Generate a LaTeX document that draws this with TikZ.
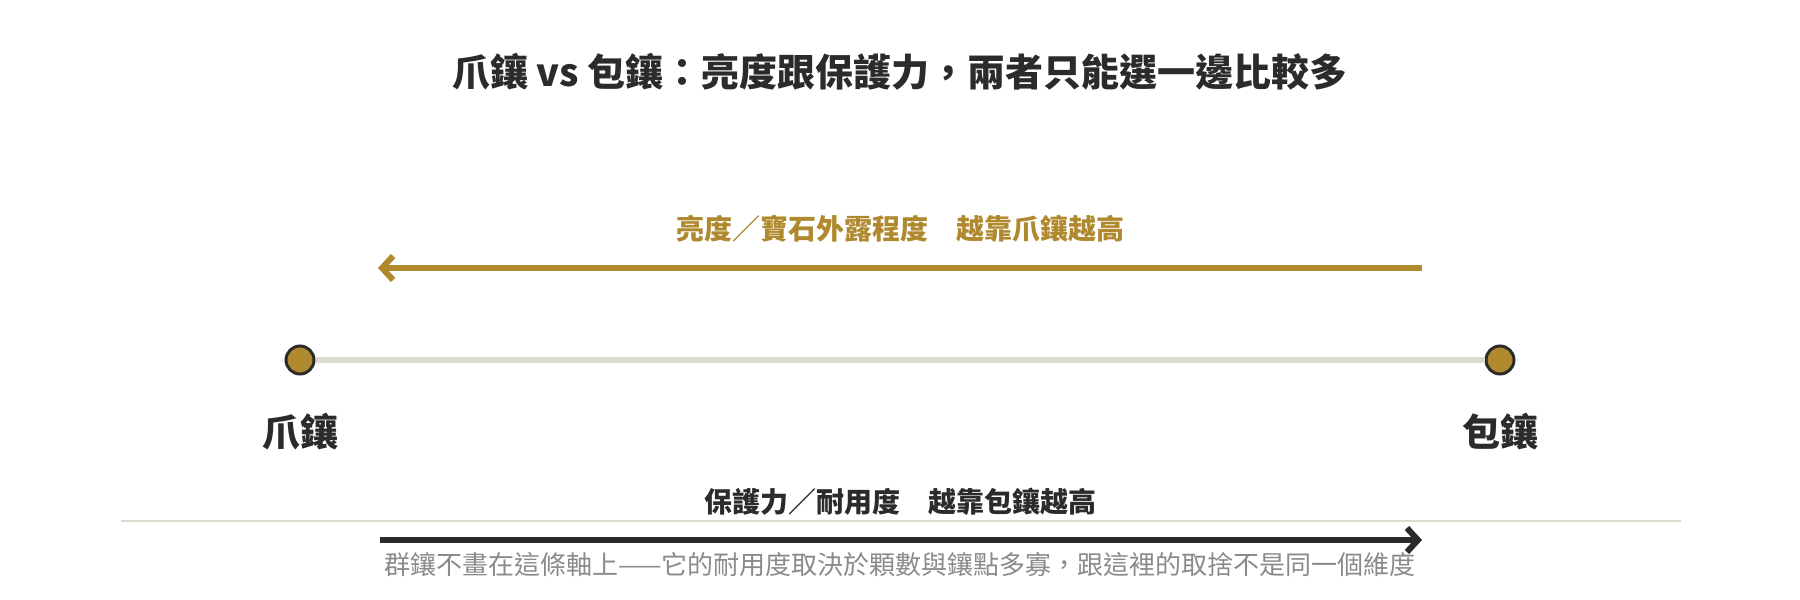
\documentclass[tikz,border=0pt]{standalone}
\usepackage{fontspec}
\setmainfont{Noto Sans CJK TC}
\newfontfamily\cjk{Noto Sans CJK TC}
\usetikzlibrary{arrows.meta}
\definecolor{gold}{HTML}{B0892E}
\definecolor{ink}{HTML}{2B2B2B}
\definecolor{track}{HTML}{DEDAD0}
\definecolor{note}{HTML}{8A8A8A}
\tikzset{
  titletext/.style={font=\cjk\bfseries\fontsize{38}{42}\selectfont, text=ink, inner sep=0pt},
  goldtext/.style={font=\cjk\bfseries\fontsize{28}{32}\selectfont, text=gold, inner sep=0pt},
  darktext/.style={font=\cjk\bfseries\fontsize{28}{32}\selectfont, text=ink, inner sep=0pt},
  endtext/.style={font=\cjk\bfseries\fontsize{38}{42}\selectfont, text=ink, inner sep=0pt},
  notetext/.style={font=\cjk\fontsize{26}{30}\selectfont, text=note, inner sep=0pt},
  dot/.style={circle, fill=gold, draw=ink, line width=3pt, minimum size=28pt, inner sep=0pt},
  barb/.style={-{Straight Barb[length=11pt,width=24pt,line width=6pt]}, line width=6.5pt},
}
\begin{document}
\begin{tikzpicture}[x=1pt,y=-1pt]
\useasboundingbox (0,0) rectangle (1800,600);
\node[titletext] (title) at (900,72) {爪鑲 vs 包鑲：亮度跟保護力，兩者只能選一邊比較多};
\node[goldtext] (goldlabel) at (900,229) {亮度／寶石外露程度　越靠爪鑲越高};
\coordinate (gs) at (1422,268);
\coordinate (ge) at (378,268);
\draw[barb, draw=gold] (gs) -- (ge);
\node[dot] (L) at (300,360) {};
\node[dot] (R) at (1500,360) {};
\draw[track, line width=6pt] (L.east) -- (R.west);
\node[endtext] (Llab) at (300,432) {爪鑲};
\node[endtext] (Rlab) at (1500,432) {包鑲};
\node[darktext] (darklabel) at (900,502) {保護力／耐用度　越靠包鑲越高};
\coordinate (sl) at (121,521);
\coordinate (sr) at (1681,521);
\draw[track, line width=2pt] (sl) -- (sr);
\coordinate (bs) at (380,540);
\coordinate (be) at (1422,540);
\draw[barb, draw=ink] (bs) -- (be);
\node[notetext] (note) at (900,565) {群鑲不畫在這條軸上——它的耐用度取決於顆數與鑲點多寡，跟這裡的取捨不是同一個維度};
\end{tikzpicture}
\end{document}
